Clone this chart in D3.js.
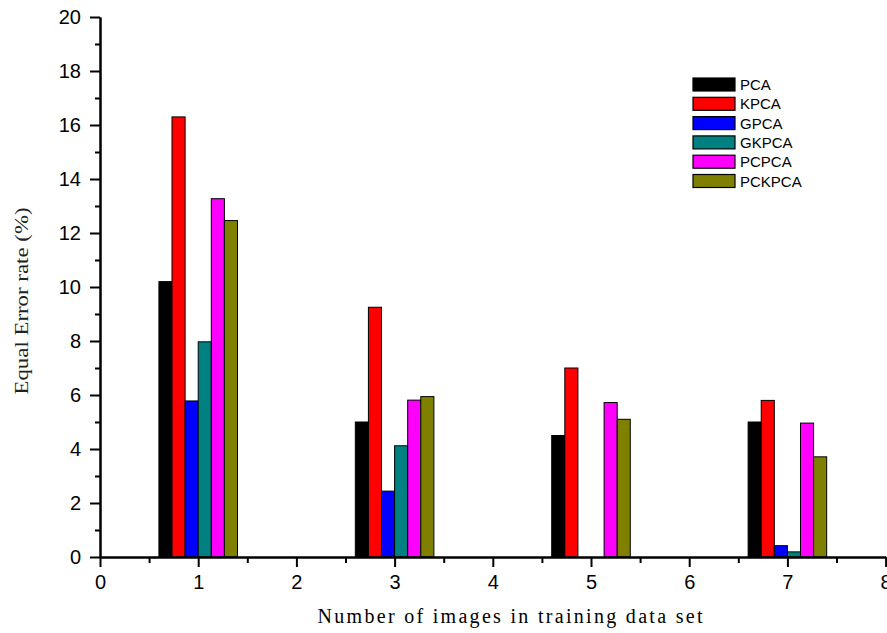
<!DOCTYPE html>
<html>
<head>
<meta charset="utf-8">
<script src="https://cdn.jsdelivr.net/npm/d3@7"></script>
<style>
    body { margin: 0; background: #fff; }
    .axis path, .axis line { stroke: #000; stroke-width: 2; }
    .axis text { font-family: "Liberation Sans", Arial, sans-serif; font-size: 20px; fill: #000; }
</style>
</head>
<body>
<div class="chartdiv"></div>
<script>
// x positions of the groups (number of images)
const groups = [1, 3, 5, 7]
const methods = ['PCA', 'KPCA', 'GPCA', 'GKPCA', 'PCPCA', 'PCKPCA']
const colors = ['#000000', '#ff0000', '#0000ff', '#008080', '#ff00ff', '#808000']

// equal error rate (%) per method, one value per group
const pca = [10.2, 5.0, 4.5, 5.0]
const kpca = [16.3, 9.25, 7.0, 5.8]
const gpca = [5.78, 2.44, 0, 0.42]
const gkpca = [7.97, 4.12, 0, 0.19]
const pcpca = [13.27, 5.81, 5.72, 4.96]
const pckpca = [12.46, 5.94, 5.1, 3.71]

const xTicks = [0, 1, 2, 3, 4, 5, 6, 7, 8]
const yTicks = [0, 2, 4, 6, 8, 10, 12, 14, 16, 18, 20]

const seriesVals = [pca, kpca, gpca, gkpca, pcpca, pckpca]

let w = 887, h = 633
let padL = 100, padR = 885.6, padT = 17, padB = 557

let svg = d3.select('.chartdiv')
    .append('svg')
    .attr('width', w)
    .attr('height', h)

let xScale = d3.scaleLinear().domain([0, 8]).range([padL, padR])
let yScale = d3.scaleLinear().domain([0, 20]).range([padB, padT])

// build flat bar list
let groupW = 0.8,
    barW = groupW / methods.length
let bars = []
seriesVals.forEach((vals, si) => {
    vals.forEach((v, gi) => {
        if (v <= 0) return
        let x0 = groups[gi] - groupW / 2 + si * barW
        bars.push({ method: methods[si], x0: x0, x1: x0 + barW, y: v, color: colors[si] })
    })
})

svg.append('g')
    .selectAll('rect')
    .data(bars)
    .enter()
    .append('rect')
    .attr('x', d => xScale(d.x0))
    .attr('y', d => yScale(d.y))
    .attr('width', d => xScale(d.x1) - xScale(d.x0))
    .attr('height', d => yScale(0) - yScale(d.y))
    .attr('fill', d => d.color)
    .attr('stroke', '#000')
    .attr('stroke-width', 1)

// minor ticks
let xMinor = d3.range(0.5, 8, 1)
let yMinor = d3.range(1, 20, 2)

svg.append('g')
    .attr('class', 'axis')
    .attr('transform', 'translate(0,' + padB + ')')
    .call(d3.axisBottom(xScale).tickValues(xMinor).tickSize(6).tickSizeOuter(0).tickFormat(''))
svg.append('g')
    .attr('class', 'axis')
    .attr('transform', 'translate(' + padL + ',0)')
    .call(d3.axisLeft(yScale).tickValues(yMinor).tickSize(5).tickSizeOuter(0).tickFormat(''))

let gx = svg.append('g')
    .attr('class', 'x axis')
    .attr('transform', 'translate(0,' + padB + ')')
    .call(d3.axisBottom(xScale).tickValues(xTicks).tickSize(10).tickSizeOuter(0).tickPadding(8).tickFormat(d3.format('d')))

let gy = svg.append('g')
    .attr('class', 'y axis')
    .attr('transform', 'translate(' + padL + ',0)')
    .call(d3.axisLeft(yScale).tickValues(yTicks).tickSize(10).tickSizeOuter(0).tickPadding(9).tickFormat(d3.format('d')))

// axis titles
svg.append('text')
    .attr('x', 510)
    .attr('y', 623)
    .attr('text-anchor', 'middle')
    .attr('textLength', 385)
    .attr('lengthAdjust', 'spacing')
    .style('font-family', '"Liberation Serif", "Times New Roman", serif')
    .style('font-size', '20px')
    .text('Number of images in training data set')

svg.append('text')
    .attr('transform', 'translate(28,301) rotate(-90)')
    .attr('text-anchor', 'middle')
    .attr('textLength', 187)
    .attr('lengthAdjust', 'spacingAndGlyphs')
    .style('font-family', '"Liberation Serif", "Times New Roman", serif')
    .style('font-size', '19px')
    .style('fill', '#222')
    .text('Equal Error rate (%)')

// legend
let legend = svg.append('g')
    .attr('transform', 'translate(693,78)')
let items = legend.selectAll('g')
    .data(methods)
    .enter()
    .append('g')
    .attr('transform', (d, i) => 'translate(0,' + (i * 19.3) + ')')
items.append('rect')
    .attr('width', 42)
    .attr('height', 13)
    .attr('fill', (d, i) => colors[i])
    .attr('stroke', '#000')
    .attr('stroke-width', 1.2)
items.append('text')
    .attr('x', 47)
    .attr('y', 12)
    .style('font-family', '"Liberation Sans", Arial, sans-serif')
    .style('font-size', '15px')
    .style('fill', '#000')
    .text(d => d)
</script>
</body>
</html>
